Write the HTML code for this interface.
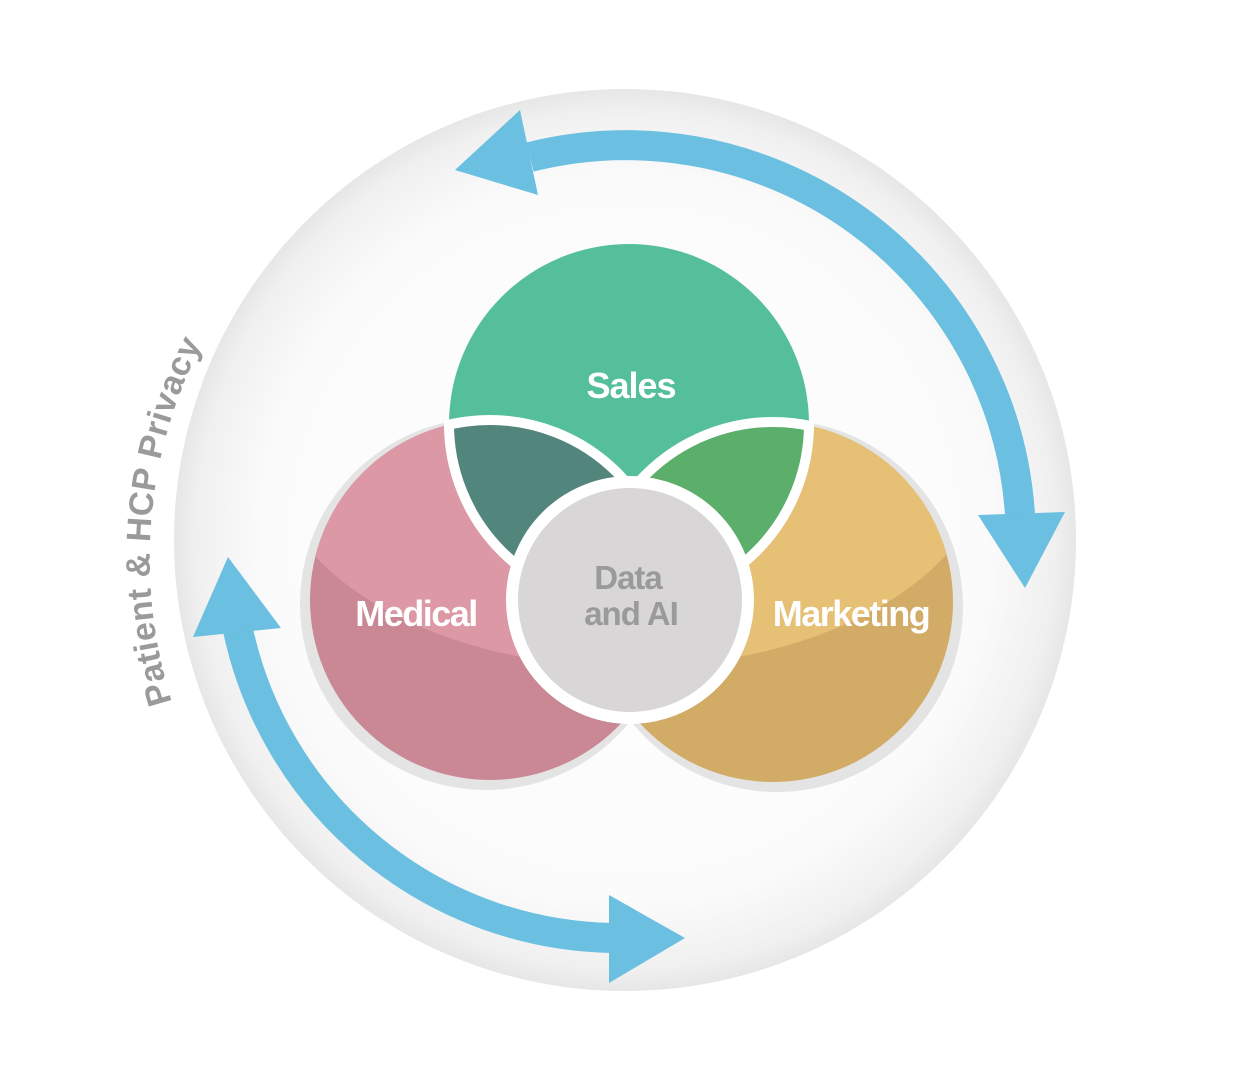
<!DOCTYPE html>
<html><head><meta charset="utf-8"><style>
html,body{margin:0;padding:0;background:#fff;}
svg{display:block;}
text{font-family:"Liberation Sans",sans-serif;font-weight:bold;}
</style></head><body>
<svg width="1251" height="1080" viewBox="0 0 1251 1080" xmlns="http://www.w3.org/2000/svg">
<defs>
<radialGradient id="bg" cx="625" cy="540" r="452" gradientUnits="userSpaceOnUse">
<stop offset="0" stop-color="#ffffff"/>
<stop offset="0.8" stop-color="#fbfbfb"/>
<stop offset="0.95" stop-color="#f0f0f0"/>
<stop offset="1" stop-color="#e6e6e6"/>
</radialGradient>
<clipPath id="cMed"><circle cx="490" cy="600" r="180"/></clipPath>
<clipPath id="cMkt"><circle cx="773" cy="602" r="180"/></clipPath>
<clipPath id="upper"><ellipse cx="630" cy="452" rx="360" ry="215"/></clipPath>
<clipPath id="cS"><circle cx="629" cy="424" r="185"/></clipPath>
</defs>
<circle cx="625" cy="540" r="451" fill="url(#bg)"/>

<circle cx="486" cy="604" r="186" fill="#e4e4e4"/>
<circle cx="777" cy="606" r="186" fill="#e4e4e4"/>

<circle cx="490" cy="600" r="180" fill="#c98893"/>
<g clip-path="url(#upper)"><circle cx="490" cy="600" r="180" fill="#dd98a5"/></g>
<circle cx="773" cy="602" r="180" fill="#d2ab66"/>
<g clip-path="url(#upper)"><circle cx="773" cy="602" r="180" fill="#e6c075"/></g>
<circle cx="629" cy="424" r="180" fill="#55bf9c"/>
<g clip-path="url(#cMed)"><circle cx="629" cy="424" r="180" fill="#52857c"/></g>
<g clip-path="url(#cMkt)"><circle cx="629" cy="424" r="180" fill="#5cae6b"/></g>
<g clip-path="url(#cMed)"><circle cx="629" cy="424" r="180" fill="none" stroke="#fff" stroke-width="10"/></g>
<g clip-path="url(#cMkt)"><circle cx="629" cy="424" r="180" fill="none" stroke="#fff" stroke-width="10"/></g>
<g clip-path="url(#cS)">
<circle cx="490" cy="600" r="180" fill="none" stroke="#fff" stroke-width="10"/>
<circle cx="773" cy="602" r="180" fill="none" stroke="#fff" stroke-width="10"/>
</g>
<circle cx="630" cy="600" r="118" fill="#d8d6d7" stroke="#fff" stroke-width="12"/>

<text x="631" y="398" font-size="36" fill="#fff" text-anchor="middle" letter-spacing="-1">Sales</text>
<text x="416" y="626" font-size="36" fill="#fff" text-anchor="middle" letter-spacing="-1.5">Medical</text>
<text x="851" y="626" font-size="36" fill="#fff" text-anchor="middle" letter-spacing="-1.5">Marketing</text>
<text x="628" y="589" font-size="33" fill="#9a9a9a" text-anchor="middle" letter-spacing="-1">Data</text>
<text x="631" y="625" font-size="33" fill="#9a9a9a" text-anchor="middle" letter-spacing="-1">and AI</text>

<g fill="#6bbfe0">
<path d="M530 157 A395 395 0 0 1 1020 515" fill="none" stroke="#6bbfe0" stroke-width="30"/>
<polygon points="520,110 455,170 538,195"/>
<polygon points="978,515 1065,512 1025,588"/>
<path d="M238 630 A390 390 0 0 0 612 938" fill="none" stroke="#6bbfe0" stroke-width="30"/>
<polygon points="193,637 228,557 281,628"/>
<polygon points="609,895 685,938 609,983"/>
</g>

<path id="tp" d="M172 702 A470 470 0 0 1 215 320" fill="none"/>
<text font-size="34" fill="#9a9a9a" letter-spacing="0.5"><textPath href="#tp">Patient &amp; HCP Privacy</textPath></text>
</svg>
</body></html>
